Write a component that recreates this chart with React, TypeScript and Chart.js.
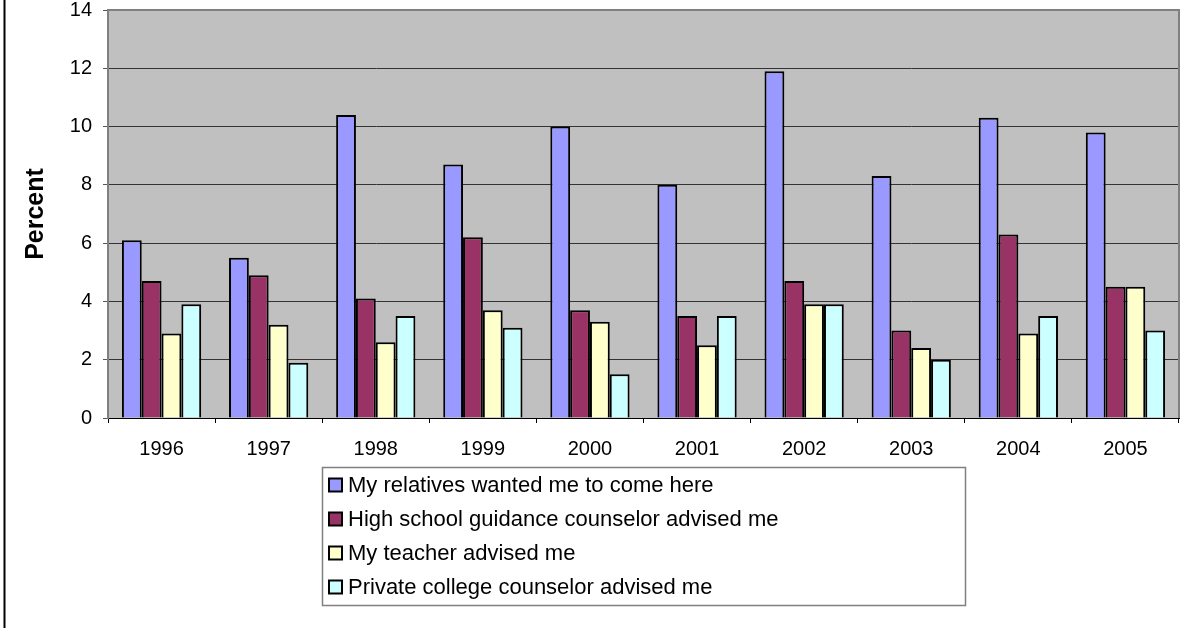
import React, { useEffect, useRef } from "react";
import { Chart, registerables } from "chart.js";

Chart.register(...registerables);

const years = ["1996", "1997", "1998", "1999", "2000", "2001", "2002", "2003", "2004", "2005"];
const relatives = [6.1, 5.5, 10.4, 8.7, 10.0, 8.0, 11.9, 8.3, 10.3, 9.8];
const guidance = [4.7, 4.9, 4.1, 6.2, 3.7, 3.5, 4.7, 3.0, 6.3, 4.5];
const teacher = [2.9, 3.2, 2.6, 3.7, 3.3, 2.5, 3.9, 2.4, 2.9, 4.5];
const privateCounselor = [3.9, 1.9, 3.5, 3.1, 1.5, 3.5, 3.9, 2.0, 3.5, 3.0];
const seriesLabels = [
  "My relatives wanted me to come here",
  "High school guidance counselor advised me",
  "My teacher advised me",
  "Private college counselor advised me",
];
const seriesColors = ["#9999FF", "#993366", "#FFFFCC", "#CCFFFF"];
const yMin = 0;
const yMax = 14;
const yStep = 2;
const yTitle = "Percent";

const FONT = "'Liberation Sans', Arial, sans-serif";

const framePlugin = {
  id: "excelFrame",
  beforeDraw(chart: any) {
    const { ctx, chartArea } = chart;
    ctx.save();
    ctx.fillStyle = "#C0C0C0";
    ctx.fillRect(chartArea.left, chartArea.top, chartArea.right - chartArea.left, chartArea.bottom - chartArea.top);
    ctx.strokeStyle = "#000000";
    ctx.lineWidth = 2;
    ctx.beginPath();
    ctx.moveTo(4.5, 0);
    ctx.lineTo(4.5, chart.height);
    ctx.stroke();
    ctx.restore();
  },
  afterDatasetsDraw(chart: any) {
    const { ctx, chartArea } = chart;
    ctx.save();
    ctx.strokeStyle = "#808080";
    ctx.lineWidth = 2;
    ctx.beginPath();
    ctx.moveTo(chartArea.left, chartArea.top);
    ctx.lineTo(chartArea.right, chartArea.top);
    ctx.lineTo(chartArea.right, chartArea.bottom);
    ctx.stroke();
    ctx.restore();
  },
  afterDraw(chart: any) {
    const { ctx } = chart;
    const boxX = 322;
    const boxY = 467;
    const boxW = 643;
    const boxH = 138;
    ctx.save();
    ctx.fillStyle = "#FFFFFF";
    ctx.fillRect(boxX, boxY, boxW, boxH);
    ctx.strokeStyle = "#808080";
    ctx.lineWidth = 1.5;
    ctx.strokeRect(boxX + 0.5, boxY + 0.5, boxW, boxH);
    ctx.font = "22px " + FONT;
    ctx.textBaseline = "middle";
    ctx.textAlign = "left";
    chart.data.datasets.forEach((ds: any, i: number) => {
      const cy = boxY + 18 + i * 34;
      ctx.fillStyle = ds.backgroundColor;
      ctx.fillRect(329, cy - 6.5, 13, 13);
      ctx.strokeStyle = "#000000";
      ctx.lineWidth = 2;
      ctx.strokeRect(329, cy - 6.5, 13, 13);
      ctx.fillStyle = "#000000";
      ctx.fillText(ds.label, 348, cy + 1);
    });
    ctx.restore();
  },
};

export default function App() {
  const canvasRef = useRef<HTMLCanvasElement | null>(null);

  useEffect(() => {
    if (!canvasRef.current) return;
    const seriesData = [relatives, guidance, teacher, privateCounselor];
    const chart = new Chart(canvasRef.current, {
      type: "bar",
      data: {
        labels: years,
        datasets: seriesData.map((d, i) => ({
          label: seriesLabels[i],
          data: d,
          backgroundColor: seriesColors[i],
          borderColor: "#000000",
          borderWidth: 2,
          categoryPercentage: 0.74,
          barPercentage: 1.0,
        })),
      },
      options: {
        animation: false,
        responsive: false,
        maintainAspectRatio: false,
        devicePixelRatio: 1,
        layout: { padding: { top: 0, right: 4, bottom: 170, left: 0 } },
        plugins: {
          legend: { display: false },
          tooltip: { enabled: false },
          title: { display: false },
        },
        scales: {
          x: {
            offset: true,
            grid: {
              offset: true,
              drawOnChartArea: false,
              drawTicks: true,
              tickLength: 5,
              tickColor: "#000000",
            },
            border: { display: true, color: "#000000", width: 1 },
            ticks: {
              color: "#000000",
              font: { family: FONT, size: 20 },
              padding: 14,
              maxRotation: 0,
              autoSkip: false,
            },
            afterFit(scale: any) {
              scale.height = 40;
              scale.paddingLeft = 0;
              scale.paddingRight = 0;
            },
          },
          y: {
            min: yMin,
            max: yMax,
            ticks: {
              stepSize: yStep,
              color: "#000000",
              font: { family: FONT, size: 20 },
              padding: 11,
            },
            grid: {
              color: "#333333",
              lineWidth: 1,
              tickLength: 5,
              tickColor: "#555555",
            },
            border: { display: true, color: "#808080", width: 2 },
            title: {
              display: true,
              text: yTitle,
              color: "#000000",
              font: { family: FONT, size: 25, weight: "bold" },
              padding: { top: 21, bottom: 0 },
            },
            afterFit(scale: any) {
              scale.width = 108;
              scale.paddingTop = 10;
              scale.paddingBottom = 0;
            },
          },
        },
      },
      plugins: [framePlugin],
    });
    return () => chart.destroy();
  }, []);

  return (
    <div style={{ position: "fixed", left: 0, top: 0, width: 1183, height: 628, background: "#FFFFFF" }}>
      <canvas ref={canvasRef} width={1183} height={628} style={{ width: 1183, height: 628, display: "block" }} />
    </div>
  );
}
